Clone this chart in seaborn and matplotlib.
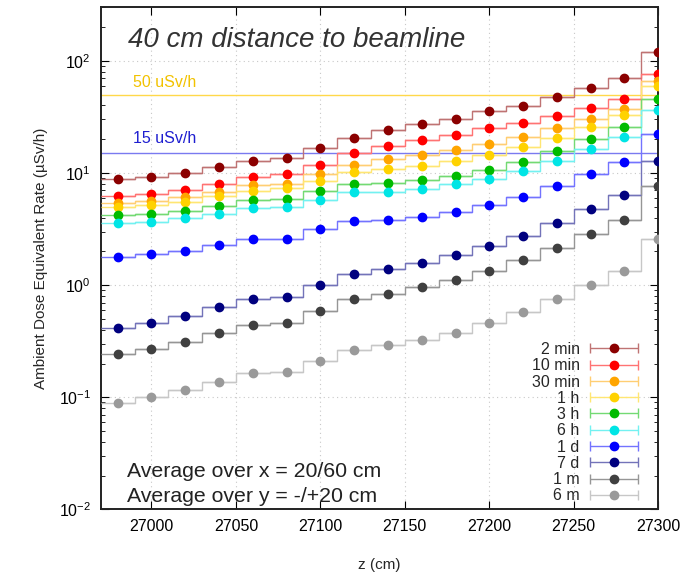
import numpy as np
import pandas as pd
import matplotlib
matplotlib.use("Agg")
import matplotlib.pyplot as plt
import matplotlib.colors as mcolors
from matplotlib.container import ErrorbarContainer
from matplotlib.legend_handler import HandlerErrorbar
import seaborn as sns

# ---- data ----
z_cm = [26980, 27000, 27020, 27040, 27060, 27080, 27100, 27120, 27140,
        27160, 27180, 27200, 27220, 27240, 27260, 27280, 27300]
labels = ["2 min", "10 min", "30 min", "1 h", "3 h", "6 h", "1 d", "7 d", "1 m", "6 m"]
rate_2min = [8.8, 9.2, 10.0, 11.2, 12.7, 13.6, 16.6, 20.7, 24.1, 27.3, 30.4, 35.6, 39.7, 47.5, 57.4, 69.7, 121]
rate_10min = [6.2, 6.5, 7.0, 8.0, 9.2, 9.7, 11.9, 15.0, 17.5, 19.5, 21.6, 25.0, 27.7, 32.1, 38.1, 45.3, 77]
rate_30min = [5.35, 5.6, 6.05, 6.8, 7.75, 8.0, 9.7, 11.9, 13.2, 14.5, 16.0, 18.3, 20.9, 25.0, 30.2, 37.1, 66]
rate_1h = [4.93, 5.17, 5.53, 6.25, 6.9, 7.3, 8.46, 10.2, 10.8, 11.5, 12.7, 14.4, 16.9, 20.5, 25.5, 32.6, 59.5]
rate_3h = [4.21, 4.3, 4.6, 5.1, 5.73, 5.85, 6.85, 8.0, 8.17, 8.58, 9.43, 10.7, 12.6, 15.6, 19.9, 25.8, 45.8]
rate_6h = [3.57, 3.67, 3.93, 4.3, 4.86, 4.93, 5.73, 6.71, 6.79, 7.18, 7.91, 8.87, 10.45, 12.8, 16.2, 21.0, 36.1]
rate_1d = [1.79, 1.88, 2.02, 2.27, 2.57, 2.59, 3.14, 3.74, 3.82, 4.06, 4.5, 5.17, 6.13, 7.63, 9.83, 12.6, 22.1]
rate_7d = [0.414, 0.461, 0.532, 0.637, 0.755, 0.782, 1.0, 1.27, 1.40, 1.58, 1.84, 2.23, 2.77, 3.59, 4.76, 6.39, 12.8]
rate_1m = [0.2425, 0.2705, 0.312, 0.371, 0.44, 0.461, 0.583, 0.746, 0.835, 0.954, 1.11, 1.35, 1.67, 2.15, 2.87, 3.82, 7.63]
rate_6m = [0.0899, 0.101, 0.1165, 0.137, 0.164, 0.169, 0.211, 0.265, 0.29, 0.321, 0.376, 0.458, 0.571, 0.75, 1.0, 1.34, 2.57]
series = [rate_2min, rate_10min, rate_30min, rate_1h, rate_3h, rate_6h,
          rate_1d, rate_7d, rate_1m, rate_6m]
limit_levels = [50, 15]
limit_labels = ["50 uSv/h", "15 uSv/h"]
bin_half_width = 10

marker_colors = ["#8B0000", "#FF0000", "#FFA500", "#FFD200", "#00BB00",
                 "#00E5E5", "#0000FF", "#00007F", "#404040", "#9A9A9A"]


def lighten(c, f=0.55):
    r, g, b = mcolors.to_rgb(c)
    return (r * f + (1 - f), g * f + (1 - f), b * f + (1 - f))


line_colors = [lighten(c) for c in marker_colors]

df = pd.DataFrame({
    "z": np.tile(z_cm, len(labels)),
    "rate": np.concatenate(series),
    "time": np.repeat(labels, len(z_cm)),
})

# ---- figure ----
sns.set_style("ticks")
plt.rcParams["font.family"] = ["Liberation Sans", "DejaVu Sans"]
plt.rcParams["mathtext.fontset"] = "custom"
plt.rcParams["mathtext.rm"] = "Liberation Sans"
plt.rcParams["mathtext.it"] = "Liberation Sans:italic"

fig = plt.figure(figsize=(7.0, 5.74), dpi=100)
ax = fig.add_axes([0.1439, 0.1124, 0.7965, 0.8749])
ax.set_yscale("log")

sns.lineplot(data=df, x="z", y="rate", hue="time", hue_order=labels,
             palette=dict(zip(labels, line_colors)), drawstyle="steps-mid",
             linewidth=1.0, legend=False, ax=ax, zorder=2)

for lab, vals, mc, lc in zip(labels, series, marker_colors, line_colors):
    eb = ax.errorbar(z_cm, vals, xerr=bin_half_width, fmt="o", ms=6,
                     color=mc, ecolor=lc, elinewidth=1.0, capsize=3.5,
                     capthick=1.0, label=lab, zorder=3)
    for cap in eb[1]:
        cap.set_data([], [])

ax.axhline(limit_levels[0], color="#FFD84A", lw=1.0, zorder=1)
ax.axhline(limit_levels[1], color="#7A7AF0", lw=1.0, zorder=1)
ax.text(0.058, 0.851, limit_labels[0], transform=ax.transAxes, color="#F2C200",
        fontsize=11.5, va="center", ha="left")
ax.text(0.058, 0.738, limit_labels[1], transform=ax.transAxes, color="#1E1ED0",
        fontsize=11.5, va="center", ha="left")

ax.text(0.049, 0.935, "40 cm distance to beamline", transform=ax.transAxes,
        fontsize=20, style="italic", color="#333333", va="center", ha="left")
ax.text(0.047, 0.0747, "Average over x = 20/60 cm", transform=ax.transAxes,
        fontsize=15.3, color="#222222", va="center", ha="left")
ax.text(0.047, 0.025, "Average over y = -/+20 cm", transform=ax.transAxes,
        fontsize=15.3, color="#222222", va="center", ha="left")

ax.set_xlim(26970, 27300)
ax.set_ylim(0.01, 300)
ax.set_xticks([27000, 27050, 27100, 27150, 27200, 27250, 27300])
ax.grid(True, which="major", linestyle=(0, (1, 3)), color="#C8C8C8", linewidth=0.8)
ax.set_axisbelow(True)
ax.tick_params(which="both", direction="in", top=True, right=True,
               labelsize=11.5, colors="black")
ax.tick_params(which="major", length=6, width=0.8, pad=7)
ax.tick_params(which="minor", length=3, width=0.6)
ax.tick_params(axis="x", which="minor", bottom=False, top=False)
for s in ax.spines.values():
    s.set_linewidth(1.4)
    s.set_color("#222222")

ax.set_xlabel("z (cm)", fontsize=11)
ax.xaxis.set_label_coords(0.5, -0.097)
ax.set_ylabel("Ambient Dose Equivalent Rate (µSv/h)", fontsize=11, labelpad=8)

handles, labs = ax.get_legend_handles_labels()
leg = ax.legend(handles, labs, loc="lower right", bbox_to_anchor=(0.968, 0.012),
                frameon=False, markerfirst=False, fontsize=11.5,
                handlelength=3.3, handletextpad=0.5, labelspacing=0.08,
                borderpad=0, borderaxespad=0,
                handler_map={ErrorbarContainer: HandlerErrorbar(xerr_size=1.5, numpoints=1)})

fig.savefig("out.png", dpi=100)
